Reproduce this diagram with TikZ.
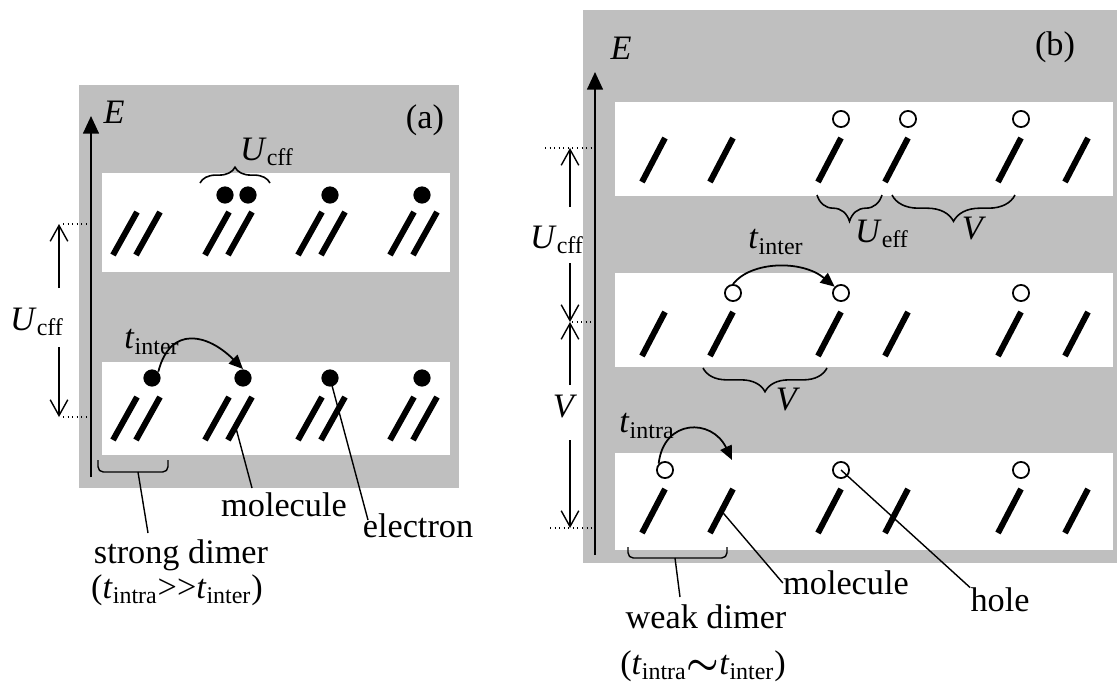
\documentclass[tikz,border=0pt]{standalone}
\usepackage{fontspec}
\setmainfont{Liberation Serif}
\usetikzlibrary{arrows.meta,calc,decorations.pathreplacing}
\newcommand{\tsub}[2]{\textit{#1}\textsubscript{#2}}

\begin{document}
\begin{tikzpicture}[x=0.02cm,y=-0.02cm,
  lbl/.style={inner sep=0pt,font=\fontsize{19.5}{22}\selectfont},
  shade/.style={fill=black!25},
  band/.style={fill=white},
  stick/.style={line width=3.4pt},
  electron/.style={circle,fill=black,inner sep=0pt,minimum size=9.8pt},
  hole/.style={circle,draw,fill=white,line width=1pt,inner sep=0pt,minimum size=9.2pt},
  axis/.style={line width=1pt,-{Triangle[length=10pt,width=9pt]}},
  hop/.style={line width=1pt,-{Triangle[length=8pt,width=7pt]}},
  barb/.style={line width=0.8pt,-{Straight Barb[length=9pt,width=10pt]}},
  level/.style={dotted,line width=0.6pt},
  leader/.style={line width=0.8pt},
  brc/.style={decorate,decoration={brace,amplitude=#1},line width=0.9pt}]
\useasboundingbox (0,0) rectangle (1117,684);

% (a) strong dimers
\fill[shade] (79,85) rectangle (459,488);
\fill[band] (102,173) rectangle (450,272);
\fill[band] (102,362) rectangle (450,455);
\draw[axis] (91,477) coordinate (aO) -- (91,116) coordinate (aTip);
\node[lbl] (aE) at (114,112) {\textit{E}};
\node[lbl] (aTag) at (425,120) {(a)};

\foreach \yb/\bn in {255/T,440/B} {
  \foreach \xb [count=\c] in {113,136,205,228,298,321,390,413} {
    \draw[stick] (\xb,\yb) coordinate (a\bn\c) -- ++(24,-43) coordinate (u\bn\c);
  }
}

\node[electron] (eT1) at (225,195) {};
\node[electron] (eT2) at (248,195) {};
\node[electron] (eT3) at (330,195) {};
\node[electron] (eT4) at (422,195) {};
\node[electron] (eB1) at (152,378) {};
\node[electron] (eB2) at (243,378) {};
\node[electron] (eB3) at (330,378) {};
\node[electron] (eB4) at (422,378) {};

\draw[brc=9pt] (200,183) -- (270,183);
\node[lbl] (uA) at (267,152) {\tsub{U}{cff}};

\draw[hop] (eB1.north east) .. controls +(12,-47) and +(-35,-35) .. (eB2.north);
\node[lbl] (tA) at (152,342) {\tsub{t}{inter}};

% energy gap
\coordinate (aLvT) at (59,224);
\coordinate (aLvB) at (59,417);
\draw[level] (63,224) -- (90,224);
\draw[level] (63,417) -- (90,417);
\node[lbl] (uAl) at (37,322) {\tsub{U}{cff}};
\draw[barb] (59,288) -- (aLvT);
\draw[barb] (59,347) -- (aLvB);

% labels
\draw[leader,rounded corners=3pt] (98,460) -- (98,472) -- (168,472) -- (168,460);
\coordinate (sdA) at (138,472);
\coordinate (sdEnd) at (148,533);
\node[lbl] (strongA) at (181,555) {strong dimer};
\node[lbl] (ratioA) at (177,590) {(\tsub{t}{intra}>\kern0pt>\tsub{t}{inter})};
\draw[leader] (sdA) -- (sdEnd);

\node[lbl] (molA) at (284,505) {molecule};
\coordinate (molAEnd) at (252,488);
\draw[leader] ($(aB4)!0.23!(uB4)+(3,0)$) -- (molAEnd);

\node[lbl] (elA) at (418,526) {electron};
\coordinate (elAEnd) at (368,520);
\draw[leader] (eB3.center) -- (elAEnd);

% (b) weak dimers
\fill[shade] (583,10) rectangle (1117,563);
\fill[band] (615,102) rectangle (1113,196);
\fill[band] (615,273) rectangle (1113,367);
\fill[band] (615,453) rectangle (1113,550);
\draw[axis] (595,555) coordinate (bO) -- (595,72) coordinate (bTip);
\node[lbl] (bE) at (621,48) {\textit{E}};
\node[lbl] (bTag) at (1055,47) {(b)};

\foreach \yb [count=\r] in {182,356,533} {
  \foreach \xb [count=\c] in {642,710,818,885,998,1065} {
    \draw[stick] (\xb,\yb) coordinate (m\r\c) -- ++(23,-44) coordinate (n\r\c);
  }
}
\foreach \r/\c in {1/3,1/4,1/5,2/2,2/3,2/5,3/1,3/3,3/5} {
  \node[hole] (h\r\c) at ($(n\r\c)+(0,-19)$) {};
}

\draw[brc=15pt] (882,195) -- (817,195);
\draw[brc=15pt] (1015,195) -- (892,195);
\node[lbl] (uB) at (882,234) {\tsub{U}{eff}};
\node[lbl] (vB1) at (974,229) {\textit{V}};

\draw[hop] (h22.north) .. controls +(18,-23) and +(-33,-27) .. (h23.north west);
\node[lbl] (tB) at (776,242) {\tsub{t}{inter}};
\draw[brc=13.5pt] (827,368) -- (703,368);
\node[lbl] (vB2) at (788,400) {\textit{V}};

\coordinate (hopEnd) at ($(n32)+(-1,-29)$);
\draw[hop] (h31.north west) .. controls +(5,-45) and +(-20,-42) .. (hopEnd);
\node[lbl] (tB2) at (647,426) {\tsub{t}{intra}};

% energy gaps
\coordinate (bLv1) at (570,148);
\coordinate (bLv2) at (570,322);
\coordinate (bLv3) at (570,528);
\draw[level] (545,148) -- (595,148);
\draw[level] (572,322) -- (593,322);
\draw[level] (550,528) -- (595,528);
\node[lbl] (uBl) at (557,240) {\tsub{U}{cff}};
\node[lbl] (vBl) at (565,407) {\textit{V}};
\draw[barb] (570,207) -- (bLv1);
\draw[barb] (570,263) -- (bLv2);
\draw[barb] (570,385) -- (bLv2);
\draw[barb] (570,440) -- (bLv3);

% labels
\draw[leader,rounded corners=3pt] (628,547) -- (628,558) -- (727,558) -- (727,547);
\coordinate (wdA) at (675,558);
\coordinate (wdEnd) at (680,597);
\node[lbl] (weakB) at (706,617) {weak dimer};
\node[lbl] (ratioB) at (703,666) {(\tsub{t}{intra}{\boldmath$\sim$}\tsub{t}{inter})};
\draw[leader] (wdA) -- (wdEnd);

\node[lbl] (molB) at (846,583) {molecule};
\draw[leader] ($(m32)!0.45!(n32)+(3,0)$) -- (molB.west);

\node[lbl] (holeB) at (1000,600) {hole};
\draw[leader] (h33.center) -- (holeB.north west);
\end{tikzpicture}
\end{document}
